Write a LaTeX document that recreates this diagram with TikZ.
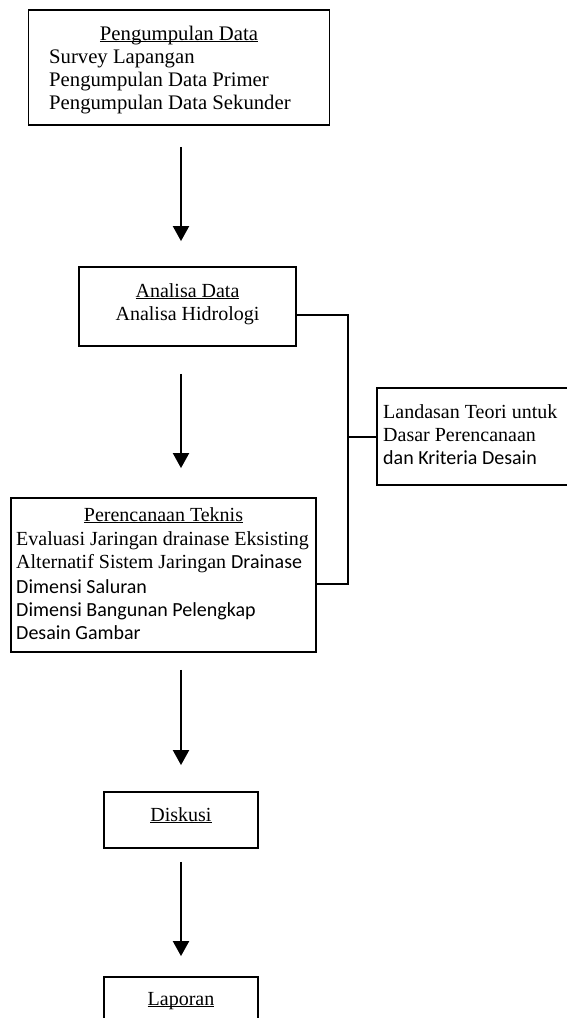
\documentclass[tikz,border=0pt]{standalone}
\usepackage{fontspec}
\setmainfont{Liberation Serif}
\newfontfamily\calfont{Carlito}
\usetikzlibrary{arrows.meta}
\newcommand\ulx[1]{\setbox0\hbox{#1}\rlap{\rule[-2.2pt]{\wd0}{0.9pt}}\box0}
\begin{document}
\begin{tikzpicture}[x=1pt,y=-1pt,
  box/.style={draw, line width=1.8pt, inner sep=0pt, rectangle},
  txt/.style={anchor=base west, inner sep=0pt, font=\fontsize{20}{24}\selectfont},
  ctxt/.style={anchor=base, inner sep=0pt, font=\fontsize{20}{24}\selectfont},
  btxt/.style={anchor=base west, inner sep=0pt, font=\fontsize{20.7}{24}\selectfont},
  bctxt/.style={anchor=base, inner sep=0pt, font=\fontsize{20.7}{24}\selectfont},
  arr/.style={line width=2pt, -{Triangle[width=16pt,length=15pt]}},
  link/.style={line width=2pt}]
\useasboundingbox (0,0) rectangle (567,1018);
\clip (0,0) rectangle (567,1018);
\fill[white] (0,0) rectangle (567,1018);

% boxes
\node[box, minimum width=301pt, minimum height=115pt] (b1) at (179,67.5) {};
\node[box, minimum width=217pt, minimum height=79pt] (b2) at (187.5,306.5) {};
\node[box, minimum width=305pt, minimum height=154pt] (b3) at (163.5,575) {};
\node[box, minimum width=223pt, minimum height=97pt] (b4) at (488.5,436.5) {};
\node[box, minimum width=154pt, minimum height=56pt] (b5) at (181,820) {};
\node[box, minimum width=154pt, minimum height=63pt] (b6) at (181,1008.5) {};

% texts box 1
\node[bctxt] (t1a) at (179,40) {\ulx{Pengumpulan Data}};
\node[btxt] (t1b) at (49,63) {Survey Lapangan};
\node[btxt] (t1c) at (49,86) {Pengumpulan Data Primer};
\node[btxt] (t1d) at (49,109) {Pengumpulan Data Sekunder};

% texts box 2
\node[ctxt] (t2a) at (187.5,297) {\ulx{Analisa Data}};
\node[ctxt] (t2b) at (187.5,320.5) {Analisa Hidrologi};

% texts box 3
\node[ctxt] (t3a) at (163.5,521) {\ulx{Perencanaan Teknis}};
\node[txt] (t3b) at (16,545) {Evaluasi Jaringan drainase Eksisting};
\node[txt] (t3c) at (16,568) {Alternatif Sistem Jaringan {\calfont Drainase}};
\node[txt] (t3d) at (16,593) {\calfont Dimensi Saluran};
\node[txt] (t3e) at (16,616) {\calfont Dimensi Bangunan Pelengkap};
\node[txt] (t3f) at (16,639) {\calfont Desain Gambar};

% texts box 4
\node[txt] (t4a) at (383,418) {Landasan Teori untuk};
\node[txt] (t4b) at (383,441) {Dasar Perencanaan};
\node[txt] (t4c) at (383,464) {\calfont dan Kriteria Desain};

% texts box 5, 6
\node[ctxt] (t5) at (181,821) {\ulx{Diskusi}};
\node[ctxt] (t6) at (181,1005) {\ulx{Laporan}};

% arrows
\coordinate (ax) at (181,0);
\draw[arr, shorten <=21pt, shorten >=25pt] (b1.south -| ax) -- (b2.north -| ax);
\draw[arr, shorten <=27pt, shorten >=29pt] (b2.south -| ax) -- (b3.north -| ax);
\draw[arr, shorten <=17pt, shorten >=26pt] (b3.south -| ax) -- (b5.north -| ax);
\draw[arr, shorten <=13pt, shorten >=20pt] (b5.south -| ax) -- (b6.north -| ax);

% side connectors
\coordinate (j1) at (348,315);
\coordinate (j2) at (348,584);
\draw[link] (b2.east |- j1) -- (j1) -- (j2) -- (b3.east |- j2);
\draw[link] (j1 |- b4.west) -- (b4.west);
\end{tikzpicture}
\end{document}
